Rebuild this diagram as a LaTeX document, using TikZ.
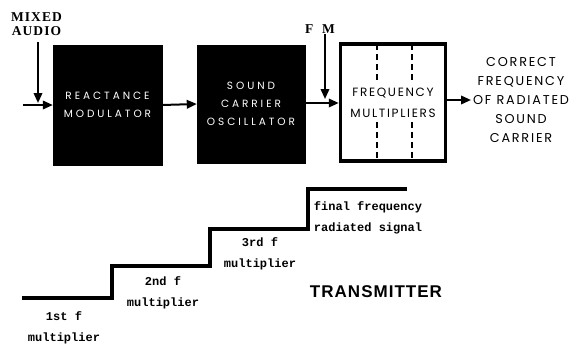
\documentclass[tikz,border=0pt]{standalone}
\usepackage{fontspec}
\setmainfont{Liberation Serif}
\newfontfamily\geo[LetterSpace=28]{Poppins}
\newfontfamily\geob[LetterSpace=14]{Poppins}
\newfontfamily\stairf{Liberation Mono}
\newfontfamily\hdsans[LetterSpace=6]{Liberation Sans}
\newfontfamily\hdserif[LetterSpace=8]{Liberation Serif}
\usetikzlibrary{arrows.meta}
\begin{document}
\begin{tikzpicture}[x=1pt,y=-1pt,
  arr/.style={line width=2pt,-{Triangle[length=10pt,width=8.5pt]}},
  blk/.style={fill=black,draw=black,minimum width=109pt,minimum height=120pt,inner sep=0pt,
    text=white,align=center,font=\geo\fontsize{10.5}{17.75}\selectfont},
  mult/.style={draw=black,line width=3.5pt,minimum width=105pt,minimum height=117pt,inner sep=0pt,
    align=center,font=\geob\fontsize{12}{21}\selectfont},
  hd/.style={font=\hdserif\bfseries\fontsize{13.5}{14}\selectfont,align=center,inner sep=0pt},
  outtxt/.style={font=\geob\fontsize{12.8}{18.8}\selectfont,align=center,inner sep=0pt},
  stl/.style={font=\stairf\bfseries\fontsize{12}{21}\selectfont,align=center,inner sep=0pt},
  stair/.style={line width=3.5pt,line join=miter},
  dsh/.style={line width=1.6pt,dash pattern=on 6pt off 4pt}
]
\useasboundingbox (0,0) rectangle (576,343);

% blocks
\node[blk] (rm) at (107.5,105) {REACTANCE\\MODULATOR};
\node[blk,minimum width=108pt,minimum height=118pt] (sco) at (251,104) {SOUND\\CARRIER\\OSCILLATOR};
\node[mult] (fm) at (393,102.5) {FREQUENCY\\MULTIPLIERS};
\draw[dsh] (377,44) -- (377,82) (377,122) -- (377,161);
\draw[dsh] (412,44) -- (412,82) (412,122) -- (412,161);

% input
\node[hd] (mix) at (36.5,24) {MIXED\\AUDIO};
\coordinate (mixtop) at (38,42);
\coordinate (mixend) at (38,103);
\draw[arr] (mixtop) -- (mixend);
\coordinate (in) at (23,105);
\draw[arr] (in) -- (rm.west);

\draw[arr] (rm.east) -- (sco.west);
\draw[arr] (sco.east |- 0,103) -- (fm.west |- 0,103);

% FM
\node[hd] (fmlab) at (320,29) {F\hspace{9pt}M};
\coordinate (fmtop) at (325,34);
\coordinate (fmend) at (325,99);
\draw[arr] (fmtop) -- (fmend);

% output
\node[outtxt] (out) at (521,100) {CORRECT\\FREQUENCY\\OF RADIATED\\SOUND\\CARRIER};
\draw[arr] (fm.east |- 0,100) -- (471,100);

% staircase
\coordinate (s0) at (22,298);
\coordinate (s1) at (112,298);
\coordinate (s2) at (112,266);
\coordinate (s3) at (210,266);
\coordinate (s4) at (210,229);
\coordinate (s5) at (308,229);
\coordinate (s6) at (308,189);
\coordinate (s7) at (407,189);
\draw[stair] (s0) -- (s1) -- (s2) -- (s3) -- (s4) -- (s5) -- (s6) -- (s7);

\node[stl] (l1) at (64,328) {1st f\\multiplier};
\node[stl] (l2) at (163,293) {2nd f\\multiplier};
\node[stl] (l3) at (260,254) {3rd f\\multiplier};
\node[stl] (l4) at (368,218) {final frequency\\radiated signal};
\node[font=\hdsans\bfseries\fontsize{17}{18}\selectfont,inner sep=0pt] (tx) at (376,292) {TRANSMITTER};
\end{tikzpicture}
\end{document}
